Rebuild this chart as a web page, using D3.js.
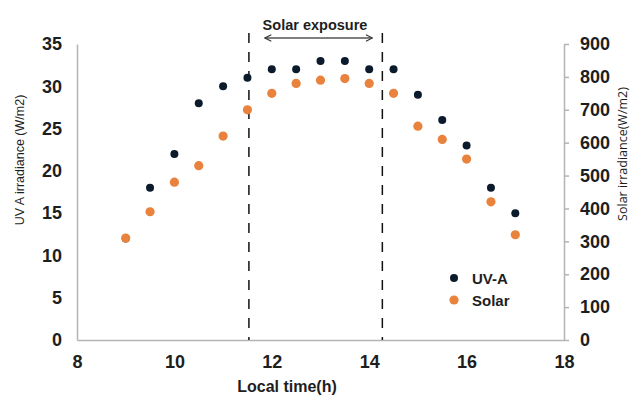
<!DOCTYPE html>
<html>
<head>
<meta charset="utf-8">
<script src="https://cdn.jsdelivr.net/npm/d3@7/dist/d3.min.js"></script>
<style>
  html, body { margin: 0; padding: 0; background: #fff; }
  svg { display: block; }
  text { font-family: "Liberation Sans", Arial, sans-serif; fill: #1e1e1e; }
</style>
</head>
<body>
<svg id="chart" width="634" height="399"></svg>
<script>
// Local time of each measurement (h)
const times = [9, 9.5, 10, 10.5, 11, 11.5, 12, 12.5, 13, 13.5, 14, 14.5, 15, 15.5, 16, 16.5, 17];
// UV-A irradiance (W/m2)
const uva = [12, 18, 22, 28, 30, 31, 32, 32, 33, 33, 32, 32, 29, 26, 23, 18, 15];
// Solar irradiance (W/m2)
const solar = [310, 390, 480, 530, 620, 700, 750, 780, 790, 795, 780, 750, 650, 610, 550, 420, 320];

const xTicks = [8, 10, 12, 14, 16, 18];
const uvTicks = [0, 5, 10, 15, 20, 25, 30, 35];
const solarTicks = [0, 100, 200, 300, 400, 500, 600, 700, 800, 900];

// Exposure window (h)
const exposureStart = 11.53;
const exposureEnd = 14.27;

const seriesNames = ["UV-A", "Solar"];
const colors = { "UV-A": "#0c1b2c", "Solar": "#e8823c" };

const svg = d3.select("#chart");
const plotLeft = 77, plotRight = 564, plotTop = 44, plotBottom = 340;

const x = d3.scaleLinear().domain([8, 18]).range([plotLeft, plotRight]);
const yL = d3.scaleLinear().domain([0, 35]).range([plotBottom, plotTop]);
const yR = d3.scaleLinear().domain([0, 900]).range([plotBottom, plotTop]);

const axisColor = "#b4b4b4";

function styleTicks(g) {
  g.select(".domain").attr("stroke", axisColor).attr("stroke-width", 1.5);
  g.selectAll("text")
    .attr("fill", "#1e1e1e")
    .attr("font-family", "Liberation Sans, Arial, sans-serif")
    .style("font-size", "18px").style("font-weight", "bold");
}

// Bottom axis
const gx = svg.append("g").attr("transform", `translate(0,${plotBottom})`)
  .call(d3.axisBottom(x).tickValues(xTicks).tickSize(0).tickPadding(15).tickFormat(d3.format("d")));
styleTicks(gx);

// Left axis
const gl = svg.append("g").attr("transform", `translate(${plotLeft},0)`)
  .call(d3.axisLeft(yL).tickValues(uvTicks).tickSize(0).tickPadding(15).tickFormat(d3.format("d")));
styleTicks(gl);

// Right axis
const gr = svg.append("g").attr("transform", `translate(${plotRight},0)`)
  .call(d3.axisRight(yR).tickValues(solarTicks).tickSize(5).tickSizeOuter(0).tickPadding(11).tickFormat(d3.format("d")));
styleTicks(gr);
gr.selectAll(".tick line").attr("stroke", axisColor).attr("stroke-width", 1.5);

// Axis titles
svg.append("text")
  .attr("transform", `translate(24,160) rotate(-90)`)
  .attr("text-anchor", "middle")
  .style("font-size", "12.5px")
  .text("UV A irradiance (W/m2)");

svg.append("text")
  .attr("transform", `translate(627,154) rotate(-90)`)
  .attr("text-anchor", "middle")
  .style("font-family", "'Open Sans', 'Noto Sans', sans-serif")
  .style("font-size", "12.5px")
  .text("Solar irradiance(W/m2)");

svg.append("text")
  .attr("x", 287).attr("y", 392)
  .attr("text-anchor", "middle")
  .style("font-size", "16px").style("font-weight", "bold")
  .text("Local time(h)");

// Exposure window markers
[exposureStart, exposureEnd].forEach(t => {
  svg.append("line")
    .attr("x1", x(t)).attr("x2", x(t))
    .attr("y1", 33).attr("y2", plotBottom)
    .attr("stroke", "#111").attr("stroke-width", 1.5)
    .attr("stroke-dasharray", "10,9");
});

const defs = svg.append("defs");
["start", "end"].forEach(k => {
  defs.append("marker")
    .attr("id", "arrow-" + k)
    .attr("viewBox", "0 0 10 10")
    .attr("refX", k === "end" ? 9 : 1).attr("refY", 5)
    .attr("markerWidth", 8).attr("markerHeight", 8)
    .attr("markerUnits", "userSpaceOnUse")
    .attr("orient", "auto")
    .append("path")
    .attr("d", k === "end" ? "M1,1 L9,5 L1,9" : "M9,1 L1,5 L9,9")
    .attr("fill", "none").attr("stroke", "#333").attr("stroke-width", 1.3);
});

svg.append("line")
  .attr("x1", x(exposureStart) + 16).attr("x2", x(exposureEnd) - 10)
  .attr("y1", 38).attr("y2", 38)
  .attr("stroke", "#555").attr("stroke-width", 1.4)
  .attr("marker-start", "url(#arrow-start)")
  .attr("marker-end", "url(#arrow-end)");

svg.append("text")
  .attr("x", 315).attr("y", 30)
  .attr("text-anchor", "middle")
  .style("font-size", "14.5px").style("font-weight", "bold")
  .text("Solar exposure");

// Data points
const uvData = times.map((t, i) => ({ t, v: uva[i] }));
const solarData = times.map((t, i) => ({ t, v: solar[i] }));

svg.append("g").selectAll("circle").data(uvData).join("circle")
  .attr("cx", d => x(d.t)).attr("cy", d => yL(d.v)).attr("r", 4)
  .attr("fill", colors["UV-A"]);

svg.append("g").selectAll("circle").data(solarData).join("circle")
  .attr("cx", d => x(d.t)).attr("cy", d => yR(d.v)).attr("r", 4.6)
  .attr("fill", colors["Solar"]);

// Legend
const legend = svg.append("g").attr("transform", "translate(454,278)");
seriesNames.forEach((name, i) => {
  const g = legend.append("g").attr("transform", `translate(0,${i * 22})`);
  g.append("circle").attr("r", name === "UV-A" ? 4 : 4.6).attr("fill", colors[name]);
  g.append("text").attr("x", 18).attr("y", 6)
    .style("font-size", "15px").style("font-weight", "bold")
    .text(name);
});
</script>
</body>
</html>
